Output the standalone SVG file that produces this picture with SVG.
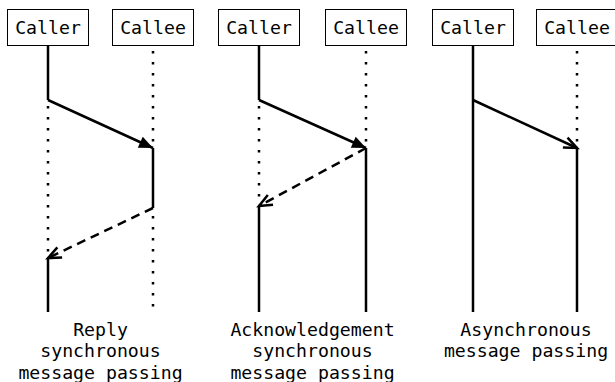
<svg xmlns="http://www.w3.org/2000/svg" width="615" height="382" viewBox="0 0 615 382">
<style>
.box{fill:#fff;stroke:#000;stroke-width:1}
.t{font-family:"DejaVu Sans Mono","Liberation Mono",monospace;font-size:18.2px;fill:#000;text-anchor:middle}
.solid{stroke:#000;stroke-width:2.5;fill:none}
.dot{stroke:#000;stroke-width:2.5;stroke-dasharray:2.5 8.5;fill:none}
.msg{stroke:#000;stroke-width:2.5;fill:none}
.dash{stroke:#000;stroke-width:2.5;stroke-dasharray:9 6;fill:none}
</style>
<defs>
<marker id="fill" markerUnits="userSpaceOnUse" markerWidth="18" markerHeight="16" refX="14" refY="6" orient="auto" overflow="visible">
<path d="M0,0 L14,6 L0,12 Z" fill="#000"/>
</marker>
<marker id="open" markerUnits="userSpaceOnUse" markerWidth="18" markerHeight="16" refX="14" refY="6" orient="auto" overflow="visible">
<path d="M1,0.5 L14,6 L1,11.5" fill="none" stroke="#000" stroke-width="2.5"/>
</marker>
</defs>
<g id="p1-caller">
<rect class="box" x="7.5" y="9.5" width="81" height="36"/>
<text class="t" x="48" y="34">Caller</text>
</g>
<g id="p1-callee">
<rect class="box" x="112.5" y="9.5" width="81" height="36"/>
<text class="t" x="153" y="34">Callee</text>
</g>
<g id="p2-caller">
<rect class="box" x="218.5" y="9.5" width="81" height="36"/>
<text class="t" x="259" y="34">Caller</text>
</g>
<g id="p2-callee">
<rect class="box" x="325.5" y="9.5" width="81" height="36"/>
<text class="t" x="366" y="34">Callee</text>
</g>
<g id="p3-caller">
<rect class="box" x="432.5" y="9.5" width="81" height="36"/>
<text class="t" x="473" y="34">Caller</text>
</g>
<g id="p3-callee">
<rect class="box" x="536.5" y="9.5" width="81" height="36"/>
<text class="t" x="577" y="34">Callee</text>
</g>
<g id="connectors">
<line class="solid" x1="48" y1="46" x2="48" y2="100"/>
<line class="dot" x1="48" y1="106" x2="48" y2="256"/>
<line class="solid" x1="48" y1="258" x2="48" y2="312"/>
<line class="dot" x1="153" y1="51" x2="153" y2="148"/>
<line class="solid" x1="153" y1="148" x2="153" y2="208"/>
<line class="dot" x1="153" y1="216" x2="153" y2="308"/>
<line class="msg" x1="48" y1="100" x2="153" y2="148" marker-end="url(#fill)"/>
<line class="dash" x1="153" y1="208" x2="48" y2="258" marker-end="url(#open)"/>
<line class="solid" x1="259" y1="46" x2="259" y2="100"/>
<line class="dot" x1="259" y1="106" x2="259" y2="204"/>
<line class="solid" x1="259" y1="206" x2="259" y2="312"/>
<line class="dot" x1="366" y1="51" x2="366" y2="146"/>
<line class="solid" x1="366" y1="148" x2="366" y2="312"/>
<line class="msg" x1="259" y1="100" x2="366" y2="148" marker-end="url(#fill)"/>
<line class="dash" x1="366" y1="148" x2="259" y2="206" marker-end="url(#open)"/>
<line class="solid" x1="473" y1="46" x2="473" y2="312"/>
<line class="dot" x1="577" y1="51" x2="577" y2="146"/>
<line class="solid" x1="577" y1="148" x2="577" y2="312"/>
<line class="msg" x1="473" y1="100" x2="577" y2="148" marker-end="url(#open)"/>
</g>
<g id="labels">
<text class="t" x="100.5" y="335.5">Reply</text>
<text class="t" x="100.5" y="357.2">synchronous</text>
<text class="t" x="100.5" y="379">message passing</text>
<text class="t" x="312.5" y="335.5">Acknowledgement</text>
<text class="t" x="312.5" y="357.2">synchronous</text>
<text class="t" x="312.5" y="379">message passing</text>
<text class="t" x="526" y="335.5">Asynchronous</text>
<text class="t" x="526" y="357.2">message passing</text>
</g>
</svg>
